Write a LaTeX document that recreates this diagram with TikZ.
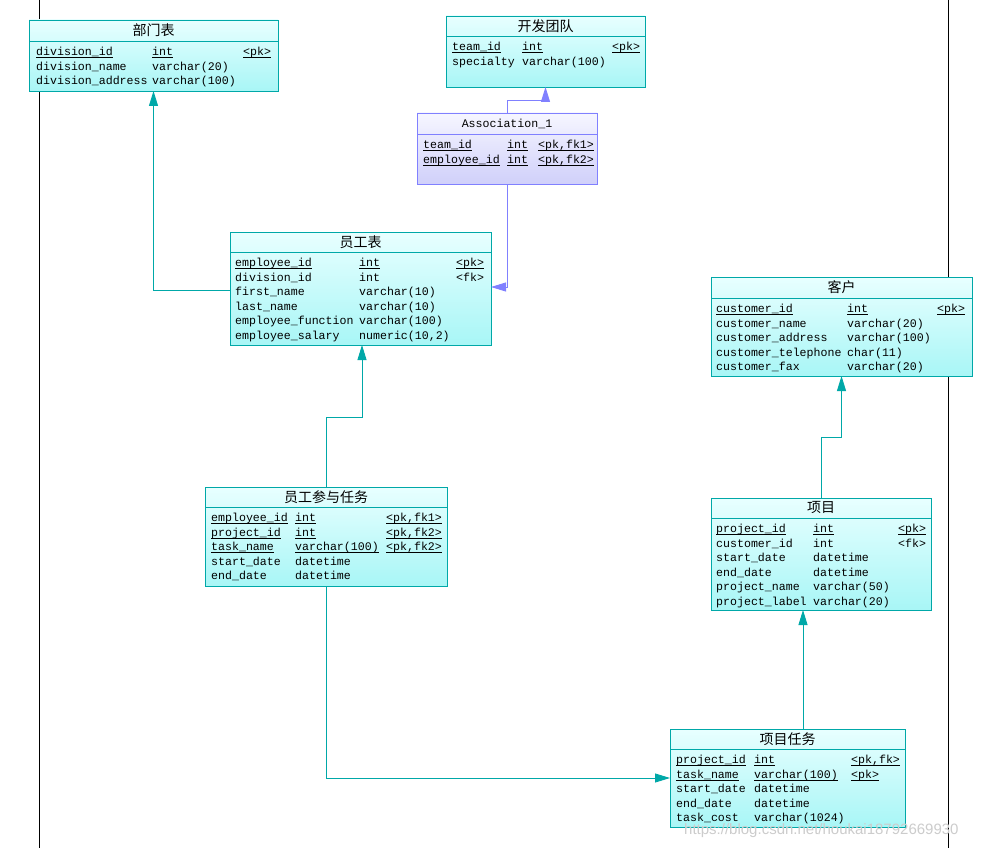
\documentclass[tikz,border=0pt]{standalone}
\usepackage{fontspec}
\setmonofont{Liberation Mono}
\newfontfamily\cjk{Noto Sans CJK SC}
\newfontfamily\wmfont{Liberation Sans}
\usetikzlibrary{arrows.meta}
\definecolor{tealb}{RGB}{0,168,168}
\definecolor{ctop}{RGB}{232,255,255}
\definecolor{cbot}{RGB}{168,246,246}
\definecolor{vb}{RGB}{128,128,255}
\definecolor{vtop}{RGB}{246,246,255}
\definecolor{vbot}{RGB}{208,208,250}
\newsavebox\myulbox
\newcommand\myul[1]{\sbox\myulbox{#1}\rlap{\rule[-2.3pt]{\wd\myulbox}{0.8pt}}\usebox\myulbox}
\begin{document}
\begin{tikzpicture}[x=1pt,y=-1pt,
  tbl/.style={draw=tealb, line width=0.9pt, top color=ctop, bottom color=cbot, inner sep=0, outer sep=0, anchor=north west},
  atbl/.style={draw=vb, line width=0.9pt, top color=vtop, bottom color=vbot, inner sep=0, outer sep=0, anchor=north west},
  tsep/.style={draw=tealb, line width=0.9pt},
  asep/.style={draw=vb, line width=0.9pt},
  cell/.style={font=\ttfamily\fontsize{11.6}{14}\selectfont, inner sep=0, anchor=base west},
  ttl/.style={font=\cjk\fontsize{14}{16}\selectfont, inner sep=0},
  conn/.style={draw=tealb, line width=0.9pt, -{Triangle[width=9pt,length=15pt]}},
  aconn/.style={draw=vb, line width=0.9pt, -{Triangle[width=9pt,length=15pt]}},
  pline/.style={draw=black, line width=0.8pt}
]
\useasboundingbox (0,0) rectangle (988,848);
\fill[white] (0,0) rectangle (988,848);
\draw[pline] (39,0) -- (39,848);
\draw[pline] (948,0) -- (948,848);

% ---------- 部门表
\node[tbl, minimum width=249pt, minimum height=71pt] (dept) at (29,20) {};
\draw[tsep] (dept.west |- 0,41) -- (dept.east |- 0,41);
\node[ttl] (dept-t) at (dept.north |- 0,30.5) {部门表};
\foreach \a/\b/\c [count=\i] in {{\myul{division\_id}}/{\myul{int}}/{\myul{<pk>}},{division\_name}/{varchar(20)}/{},{division\_address}/{varchar(100)}/{}}{
  \node[cell] (dept-n\i) at (36,{55.5+14.6*(\i-1)}) {\a};
  \node[cell] (dept-y\i) at (152,{55.5+14.6*(\i-1)}) {\b};
  \node[cell] (dept-k\i) at (243,{55.5+14.6*(\i-1)}) {\c};
}

% ---------- 开发团队
\node[tbl, minimum width=199pt, minimum height=71pt] (team) at (446,16) {};
\draw[tsep] (team.west |- 0,36) -- (team.east |- 0,36);
\node[ttl] (team-t) at (team.north |- 0,26) {开发团队};
\foreach \a/\b/\c [count=\i] in {{\myul{team\_id}}/{\myul{int}}/{\myul{<pk>}},{specialty}/{varchar(100)}/{}}{
  \node[cell] (team-n\i) at (452,{50.5+14.6*(\i-1)}) {\a};
  \node[cell] (team-y\i) at (522,{50.5+14.6*(\i-1)}) {\b};
  \node[cell] (team-k\i) at (612,{50.5+14.6*(\i-1)}) {\c};
}

% ---------- Association_1
\node[atbl, minimum width=180pt, minimum height=71pt] (assoc) at (417,113) {};
\draw[asep] (assoc.west |- 0,134) -- (assoc.east |- 0,134);
\node[cell, anchor=center] (assoc-t) at (assoc.north |- 0,123.5) {Association\_1};
\foreach \a/\b/\c [count=\i] in {{\myul{team\_id}}/{\myul{int}}/{\myul{<pk,fk1>}},{\myul{employee\_id}}/{\myul{int}}/{\myul{<pk,fk2>}}}{
  \node[cell] (assoc-n\i) at (423,{148.5+14.6*(\i-1)}) {\a};
  \node[cell] (assoc-y\i) at (507,{148.5+14.6*(\i-1)}) {\b};
  \node[cell] (assoc-k\i) at (538,{148.5+14.6*(\i-1)}) {\c};
}

% ---------- 员工表
\node[tbl, minimum width=261pt, minimum height=113pt] (emp) at (230,232) {};
\draw[tsep] (emp.west |- 0,252) -- (emp.east |- 0,252);
\node[ttl] (emp-t) at (emp.north |- 0,242) {员工表};
\foreach \a/\b/\c [count=\i] in {{\myul{employee\_id}}/{\myul{int}}/{\myul{<pk>}},{division\_id}/{int}/{<fk>},{first\_name}/{varchar(10)}/{},{last\_name}/{varchar(10)}/{},{employee\_function}/{varchar(100)}/{},{employee\_salary}/{numeric(10,2)}/{}}{
  \node[cell] (emp-n\i) at (235,{266.5+14.6*(\i-1)}) {\a};
  \node[cell] (emp-y\i) at (359,{266.5+14.6*(\i-1)}) {\b};
  \node[cell] (emp-k\i) at (456,{266.5+14.6*(\i-1)}) {\c};
}

% ---------- 客户
\node[tbl, minimum width=261pt, minimum height=99pt] (cust) at (711,277) {};
\draw[tsep] (cust.west |- 0,298) -- (cust.east |- 0,298);
\node[ttl] (cust-t) at (cust.north |- 0,287) {客户};
\foreach \a/\b/\c [count=\i] in {{\myul{customer\_id}}/{\myul{int}}/{\myul{<pk>}},{customer\_name}/{varchar(20)}/{},{customer\_address}/{varchar(100)}/{},{customer\_telephone}/{char(11)}/{},{customer\_fax}/{varchar(20)}/{}}{
  \node[cell] (cust-n\i) at (716,{312.5+14.6*(\i-1)}) {\a};
  \node[cell] (cust-y\i) at (847,{312.5+14.6*(\i-1)}) {\b};
  \node[cell] (cust-k\i) at (937,{312.5+14.6*(\i-1)}) {\c};
}

% ---------- 员工参与任务
\node[tbl, minimum width=242pt, minimum height=99pt] (emptask) at (205,487) {};
\draw[tsep] (emptask.west |- 0,507) -- (emptask.east |- 0,507);
\node[ttl] (emptask-t) at (emptask.north |- 0,497) {员工参与任务};
\foreach \a/\b/\c [count=\i] in {{\myul{employee\_id}}/{\myul{int}}/{\myul{<pk,fk1>}},{\myul{project\_id}}/{\myul{int}}/{\myul{<pk,fk2>}},{\myul{task\_name}}/{\myul{varchar(100)}}/{\myul{<pk,fk2>}},{start\_date}/{datetime}/{},{end\_date}/{datetime}/{}}{
  \node[cell] (emptask-n\i) at (211,{521.5+14.6*(\i-1)}) {\a};
  \node[cell] (emptask-y\i) at (295,{521.5+14.6*(\i-1)}) {\b};
  \node[cell] (emptask-k\i) at (386,{521.5+14.6*(\i-1)}) {\c};
}

% ---------- 项目
\node[tbl, minimum width=220pt, minimum height=112pt] (proj) at (711,498) {};
\draw[tsep] (proj.west |- 0,518) -- (proj.east |- 0,518);
\node[ttl] (proj-t) at (proj.north |- 0,507.5) {项目};
\foreach \a/\b/\c [count=\i] in {{\myul{project\_id}}/{\myul{int}}/{\myul{<pk>}},{customer\_id}/{int}/{<fk>},{start\_date}/{datetime}/{},{end\_date}/{datetime}/{},{project\_name}/{varchar(50)}/{},{project\_label}/{varchar(20)}/{}}{
  \node[cell] (proj-n\i) at (716,{532.5+14.6*(\i-1)}) {\a};
  \node[cell] (proj-y\i) at (813,{532.5+14.6*(\i-1)}) {\b};
  \node[cell] (proj-k\i) at (898,{532.5+14.6*(\i-1)}) {\c};
}

% ---------- 项目任务
\node[tbl, minimum width=235pt, minimum height=98pt] (ptask) at (670,729) {};
\draw[tsep] (ptask.west |- 0,749) -- (ptask.east |- 0,749);
\node[ttl] (ptask-t) at (ptask.north |- 0,739) {项目任务};
\foreach \a/\b/\c [count=\i] in {{\myul{project\_id}}/{\myul{int}}/{\myul{<pk,fk>}},{\myul{task\_name}}/{\myul{varchar(100)}}/{\myul{<pk>}},{start\_date}/{datetime}/{},{end\_date}/{datetime}/{},{task\_cost}/{varchar(1024)}/{}}{
  \node[cell] (ptask-n\i) at (676,{763.5+14.6*(\i-1)}) {\a};
  \node[cell] (ptask-y\i) at (754,{763.5+14.6*(\i-1)}) {\b};
  \node[cell] (ptask-k\i) at (851,{763.5+14.6*(\i-1)}) {\c};
}

% ---------- connectors
\draw[conn] (emp.west |- 0,290) -| (dept.south);
\draw[aconn] (assoc.north) -- ++(0,-13) -| (team.south);
\draw[aconn] (assoc.south) |- (emp.east |- 0,287);
\draw[conn] (emptask.north) -- ++(0,-70) -| (emp.south -| 362,0);
\draw[conn] (emptask.south) |- (ptask.west |- 0,778);
\draw[conn] (proj.north) -- ++(0,-61) -| (cust.south);
\draw[conn] (ptask.north -| 803,0) -- (proj.south -| 803,0);

% ---------- watermark
\node[font=\wmfont\fontsize{15}{18}\selectfont, text=gray!40, anchor=base west, inner sep=0] (wm) at (684,834) {https://blog.csdn.net/houkai18792669930};
\end{tikzpicture}
\end{document}
